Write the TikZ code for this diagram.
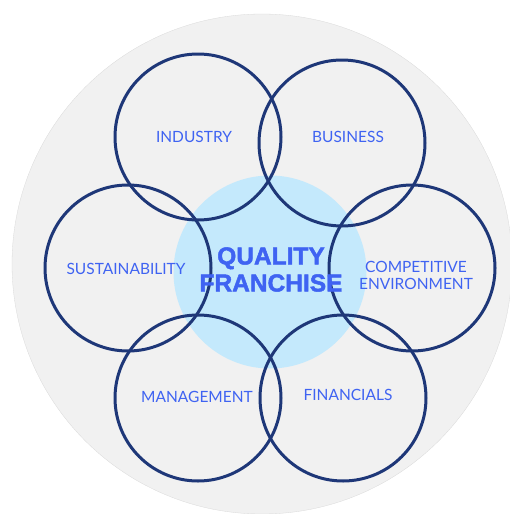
\documentclass[tikz,border=0pt]{standalone}
\usepackage{fontspec}
\setmainfont{Lato}
\newfontfamily\heavyface{Liberation Sans Bold}[FakeBold=2]
\definecolor{bgray}{HTML}{F1F1F1}
\definecolor{lblue}{HTML}{C4E9FC}
\definecolor{navy}{HTML}{1E3778}
\definecolor{tblue}{HTML}{3F63F2}
\tikzset{
  ring/.style={circle, draw=navy, line width=3pt, minimum size=166pt, inner sep=0pt, outer sep=0pt},
  lbl/.style={text=tblue, font=\fontsize{15.5}{17}\selectfont, align=center, inner sep=0pt},
  ctr/.style={text=tblue, font=\heavyface\fontsize{24.5}{27}\selectfont, align=center, inner sep=0pt}
}
\begin{document}
\begin{tikzpicture}[x=1pt,y=-1pt]
\useasboundingbox (0,0) rectangle (510,514);
\begin{scope}
\clip (0,0) rectangle (510,514);
\node[circle, fill=bgray, draw=black!15, line width=0.3pt, minimum size=500pt, inner sep=0pt] (bg) at (262,264) {};
\end{scope}
\node[circle, fill=lblue, minimum size=193pt, inner sep=0pt] (core) at (270,272) {};
\node[ring] (ind) at (198,137) {};
\node[ring] (bus) at (342,143) {};
\node[ring] (sus) at (128,268) {};
\node[ring] (com) at (412,268) {};
\node[ring] (man) at (198,398) {};
\node[ring] (fin) at (343,398) {};
\node[lbl] (tind) at (194,137) {INDUSTRY};
\node[lbl] (tbus) at (348,137) {BUSINESS};
\node[lbl] (tsus) at (126,269) {SUSTAINABILITY};
\node[lbl] (tcom) at (416,275.5) {COMPETITIVE\\ENVIRONMENT};
\node[lbl] (tman) at (197,397) {MANAGEMENT};
\node[lbl] (tfin) at (348,395) {FINANCIALS};
\node[ctr] (tq) at (271,269.5) {QUALITY\\FRANCHISE};
\end{tikzpicture}
\end{document}
